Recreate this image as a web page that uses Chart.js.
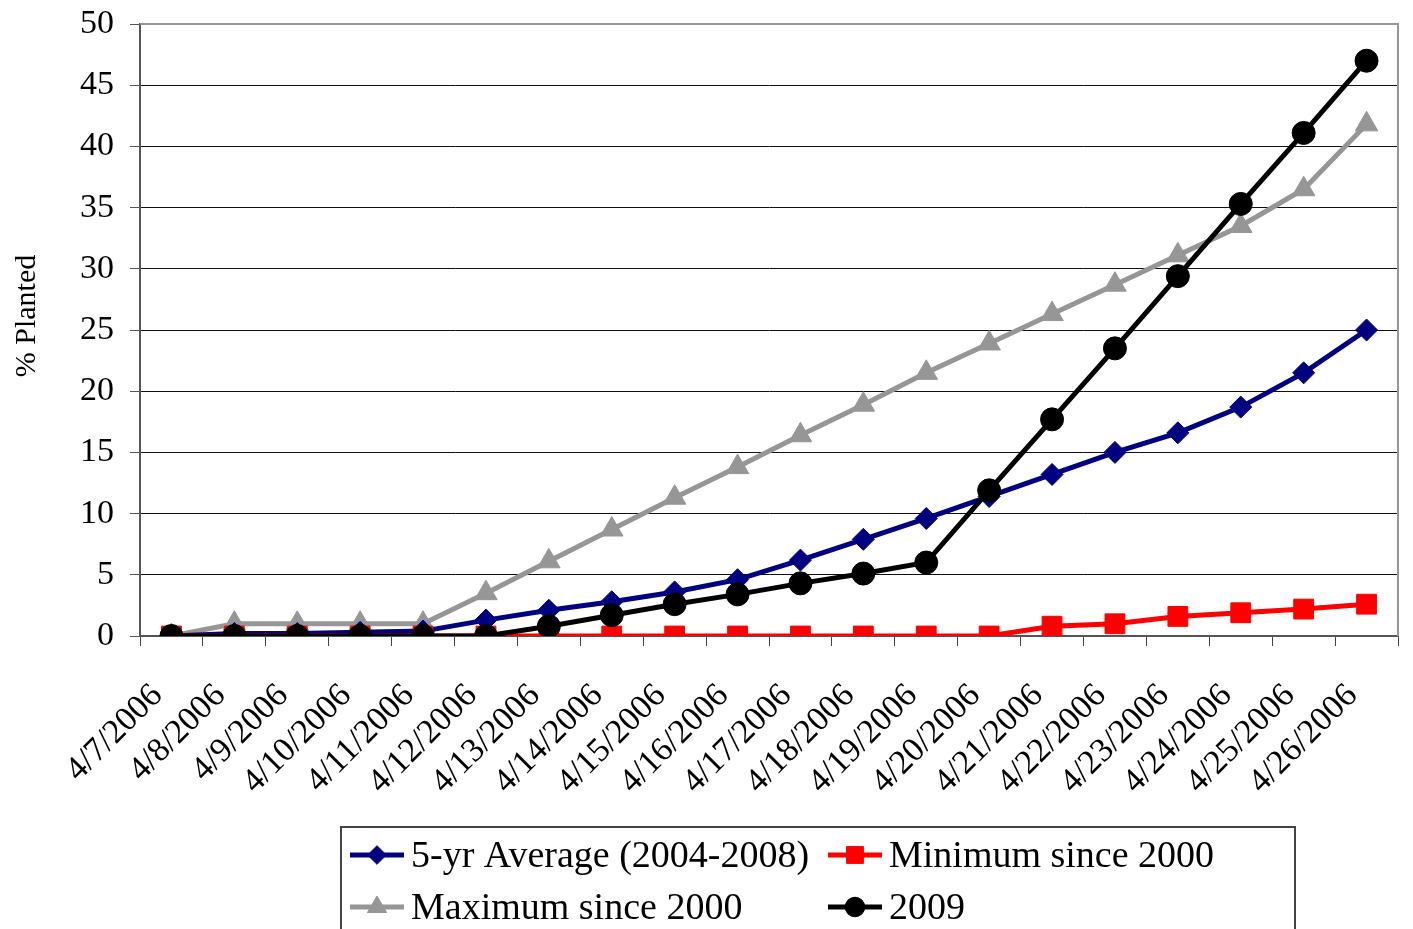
<!DOCTYPE html>
<html>
<head>
<meta charset="utf-8">
<script src="https://cdn.jsdelivr.net/npm/chart.js@4/dist/chart.umd.min.js"></script>
<style>
  html, body { margin: 0; padding: 0; background: #fff; }
  #wrap { position: relative; width: 1413px; height: 929px; }
</style>
</head>
<body>
<div id="wrap"><canvas id="c" width="1413" height="929"></canvas></div>
<script>
const categories = ["4/7/2006","4/8/2006","4/9/2006","4/10/2006","4/11/2006","4/12/2006","4/13/2006","4/14/2006","4/15/2006","4/16/2006","4/17/2006","4/18/2006","4/19/2006","4/20/2006","4/21/2006","4/22/2006","4/23/2006","4/24/2006","4/25/2006","4/26/2006"];
const avg5yr = [0, 0.2, 0.2, 0.3, 0.4, 1.3, 2.1, 2.8, 3.6, 4.6, 6.2, 7.9, 9.6, 11.4, 13.2, 15.0, 16.6, 18.7, 21.5, 25.0];
const minSince2000 = [0, 0, 0, 0, 0, 0, 0, 0, 0, 0, 0, 0, 0, 0, 0.8, 1.0, 1.6, 1.9, 2.2, 2.6];
const maxSince2000 = [0, 1, 1, 1, 1, 3.5, 6.1, 8.7, 11.3, 13.8, 16.4, 18.9, 21.5, 23.9, 26.3, 28.7, 31.1, 33.5, 36.5, 41.8];
const y2009 = [0, 0, 0, 0, 0, 0, 0.8, 1.7, 2.6, 3.4, 4.3, 5.1, 6.0, 11.9, 17.7, 23.5, 29.4, 35.3, 41.1, 47.0];
const seriesNames = ["5-yr Average (2004-2008)", "Minimum since 2000", "Maximum since 2000", "2009"];
const yTicks = [0, 5, 10, 15, 20, 25, 30, 35, 40, 45, 50];
const yTitle = "% Planted";

const FONT = "'Liberation Serif', 'Times New Roman', serif";

const styles = [
  { color: '#000080', style: 'rectRot', radius: 11 },
  { color: '#FF0000', style: 'rect', radius: 14 },
  { color: '#969696', style: 'triangle', radius: 13 },
  { color: '#000000', style: 'circle', radius: 11.5 }
];

const frameAndLegend = {
  id: 'frameAndLegend',
  beforeDatasetsDraw(chart) {
    const { ctx, chartArea: a } = chart;
    ctx.save();
    ctx.strokeStyle = '#969696';
    ctx.lineWidth = 2;
    ctx.beginPath();
    ctx.moveTo(a.left, a.top);
    ctx.lineTo(a.right, a.top);
    ctx.lineTo(a.right, a.bottom);
    ctx.stroke();
    ctx.restore();
  },
  afterDraw(chart) {
    const { ctx } = chart;
    ctx.save();
    // y axis title
    ctx.save();
    ctx.translate(27, 316);
    ctx.rotate(-Math.PI / 2);
    ctx.font = '30px ' + FONT;
    ctx.textAlign = 'center';
    ctx.textBaseline = 'middle';
    ctx.fillStyle = '#000';
    ctx.fillText(yTitle, 0, 0);
    ctx.restore();
    // legend box
    ctx.strokeStyle = '#444';
    ctx.lineWidth = 2;
    ctx.strokeRect(341, 827, 954, 130);
    const cols = [350, 828];
    const rows = [855, 907];
    const order = [[0, 0, 0], [1, 1, 0], [2, 0, 1], [3, 1, 1]];
    ctx.font = '38px ' + FONT;
    ctx.textBaseline = 'middle';
    order.forEach(([i, c, r]) => {
      const st = styles[i];
      const x0 = cols[c], y = rows[r];
      ctx.strokeStyle = st.color;
      ctx.lineWidth = 5;
      ctx.beginPath();
      ctx.moveTo(x0, y);
      ctx.lineTo(x0 + 54, y);
      ctx.stroke();
      ctx.fillStyle = st.color;
      ctx.strokeStyle = st.color;
      ctx.lineWidth = 1;
      Chart.helpers.drawPoint(ctx, { pointStyle: st.style, radius: st.radius * 0.85, rotation: 0, borderWidth: 1 }, x0 + 27, y);
      ctx.fillStyle = '#000';
      ctx.fillText(seriesNames[i], x0 + 61, y + 2);
    });
    ctx.restore();
  }
};

const datasetsSrc = [avg5yr, minSince2000, maxSince2000, y2009];
const drawOrder = [2, 1, 3, 0];

new Chart(document.getElementById('c'), {
  type: 'line',
  data: {
    labels: categories,
    datasets: datasetsSrc.map((d, i) => ({
      label: seriesNames[i],
      data: d,
      borderColor: styles[i].color,
      backgroundColor: styles[i].color,
      pointStyle: styles[i].style,
      pointRadius: styles[i].radius,
      pointHoverRadius: styles[i].radius,
      pointBorderWidth: 1,
      borderWidth: 5,
      tension: 0,
      fill: false,
      order: drawOrder[i]
    }))
  },
  options: {
    responsive: false,
    animation: false,
    events: [],
    layout: { padding: { top: 24, right: 3, left: 0, bottom: 0 } },
    plugins: { legend: { display: false }, tooltip: { enabled: false } },
    scales: {
      x: {
        offset: true,
        afterFit(scale) { scale.height = 293; scale.paddingLeft = 0; scale.paddingRight = 0; scale.paddingTop = 0; scale.paddingBottom = 0; },
        grid: {
          display: true, offset: true, drawOnChartArea: false, drawTicks: true,
          tickLength: 10, color: '#444', lineWidth: 1
        },
        border: { display: true, color: '#555', width: 2 },
        ticks: {
          autoSkip: false, maxRotation: 45, minRotation: 45,
          color: '#000', font: { family: FONT, size: 34 }, padding: 30, labelOffset: -14
        }
      },
      y: {
        min: 0, max: 50,
        afterFit(scale) { scale.width = 140; scale.paddingTop = 0; scale.paddingBottom = 0; scale.paddingLeft = 0; scale.paddingRight = 0; },
        afterBuildTicks(scale) { scale.ticks = yTicks.map(v => ({ value: v })); },
        grid: {
          color: (c) => (c.tick && c.tick.value === 50) ? 'rgba(0,0,0,0)' : '#111',
          tickColor: '#555',
          lineWidth: 1, tickLength: 10, drawTicks: true
        },
        border: { display: true, color: '#555', width: 2 },
        ticks: { color: '#000', font: { family: FONT, size: 34 }, padding: 16, stepSize: 5 },
        title: { display: false }
      }
    }
  },
  plugins: [frameAndLegend]
});
</script>
</body>
</html>
